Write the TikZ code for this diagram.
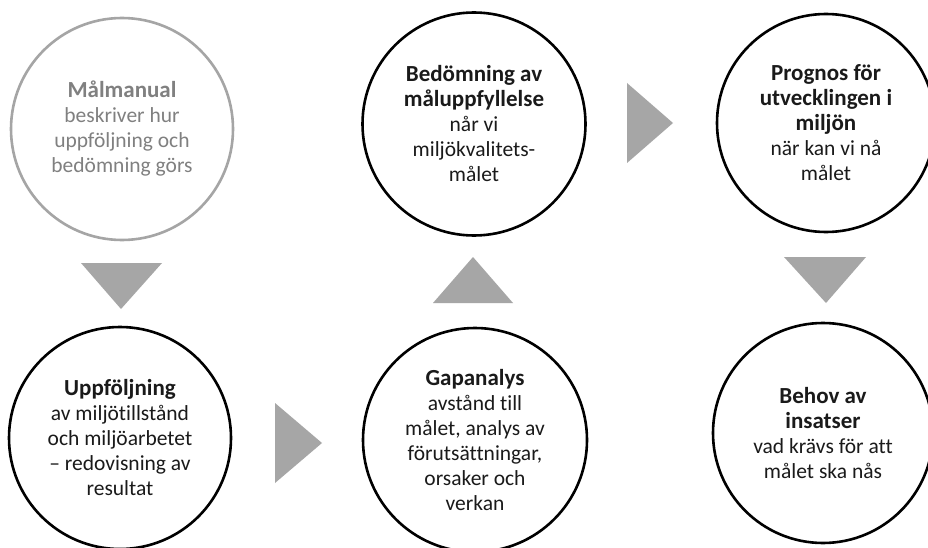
\documentclass[tikz,border=0pt]{standalone}
\usepackage{fontspec}
\setmainfont{Carlito}[Ligatures={NoCommon}, RawFeature={-liga;-clig}]
\definecolor{arrowgray}{HTML}{A6A6A6}
\definecolor{ringgray}{HTML}{A5A5A5}
\definecolor{textgray}{HTML}{808080}
\definecolor{bodytext}{HTML}{1A1A1A}
\newcommand{\hd}[1]{{\fontsize{23}{25}\selectfont\bfseries #1}}
\tikzset{
  x=1pt, y=-1pt,
  stage/.style={circle, draw=black, line width=2.6pt, inner sep=0pt,
    minimum size=#1, align=center, text=bodytext,
    font=\fontsize{21.5}{25}\selectfont},
  stagegray/.style={stage=#1, draw=ringgray, text=textgray},
  flow/.style={fill=arrowgray, draw=none}
}
\begin{document}
\begin{tikzpicture}
\useasboundingbox (0,0) rectangle (928,548);
\fill[white] (0,0) rectangle (928,548);
\node[stagegray=222pt] (man) at (122,129) {\hd{Målmanual}\\beskriver hur\\uppföljning och\\bedömning görs};
\node[stage=222pt] (upp) at (120,438) {\hd{Uppföljning}\\av miljötillstånd\\och miljöarbetet\\– redovisning  av\\resultat};
\node[stage=224pt] (gap) at (475,440) {\hd{Gapanalys}\\avstånd till\\målet, analys av\\förutsättningar,\\orsaker och\\verkan};
\node[stage=223pt] (bed) at (474,124) {\hd{Bedömning av}\\\hd{måluppfyllelse}\\når vi\\miljökvalitets-\\målet};
\node[stage=218pt] (pro) at (826,123) {\hd{Prognos för}\\\hd{utvecklingen i}\\\hd{miljön}\\när kan vi nå\\målet};
\node[stage=220pt] (beh) at (823,433) {\hd{Behov av}\\\hd{insatser}\\vad krävs för att\\målet ska nås};
% flow triangles
\fill[flow] (81,263) -- (162,263) -- (121,309) -- cycle;
\fill[flow] (275,403) -- (275,483) -- (322,443) -- cycle;
\fill[flow] (433,303) -- (513,303) -- (473,257) -- cycle;
\fill[flow] (627,83) -- (627,163) -- (673,123) -- cycle;
\fill[flow] (784,257) -- (866,257) -- (826,303) -- cycle;
\end{tikzpicture}
\end{document}
